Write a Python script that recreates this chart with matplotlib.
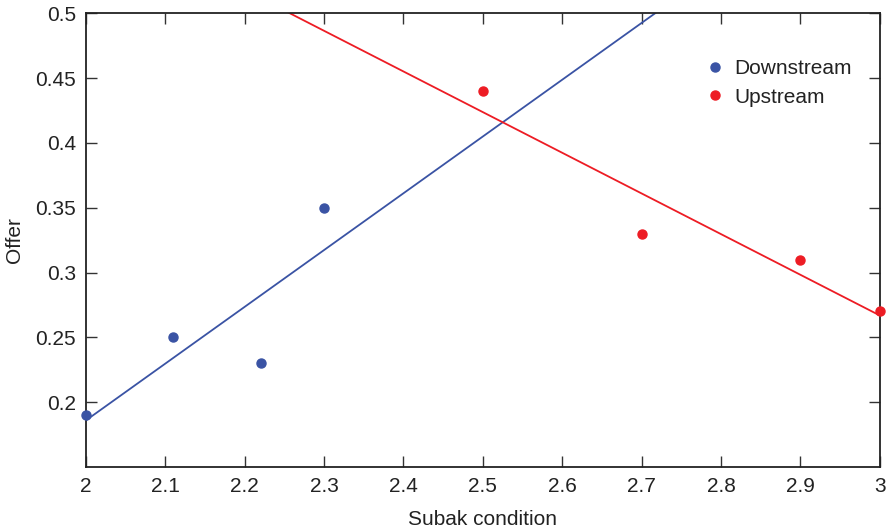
import matplotlib
matplotlib.use('Agg')
import matplotlib.pyplot as plt
import numpy as np

plt.rcParams['font.family'] = ['Liberation Sans', 'DejaVu Sans']

down_x = [2.0, 2.11, 2.22, 2.3]
down_y = [0.19, 0.25, 0.23, 0.35]
up_x = [2.5, 2.7, 2.9, 3.0]
up_y = [0.44, 0.33, 0.31, 0.27]

blue = '#3a53a4'
red = '#ed1c24'

fig = plt.figure(figsize=(8.86, 5.29), dpi=100)
ax = fig.add_axes([0.097, 0.117, 0.896, 0.858])

xs = np.array([2.0, 3.0])
for x, y, color, label in [(down_x, down_y, blue, 'Downstream'), (up_x, up_y, red, 'Upstream')]:
    ax.plot(x, y, 'o', color=color, markersize=6.5, label=label, clip_on=False, zorder=3)
    slope, icpt = np.polyfit(x, y, 1)
    ax.plot(xs, slope * xs + icpt, color=color, linewidth=1.3)

ax.set_xlim(2, 3)
ax.set_ylim(0.15, 0.5)
ax.set_xticks(np.arange(2, 3.01, 0.1))
ax.set_xticklabels(['2', '2.1', '2.2', '2.3', '2.4', '2.5', '2.6', '2.7', '2.8', '2.9', '3'])
ax.set_yticks([0.2, 0.25, 0.3, 0.35, 0.4, 0.45, 0.5])
ax.set_yticklabels(['0.2', '0.25', '0.3', '0.35', '0.4', '0.45', '0.5'])
ax.tick_params(direction='in', top=True, right=True, labelsize=15, length=8, width=1,
               color='#333333', labelcolor='#222222', pad=7)
for s in ax.spines.values():
    s.set_linewidth(1.3)
    s.set_color('#222222')

ax.set_xlabel('Subak condition', fontsize=15, color='#222222', labelpad=10)
ax.set_ylabel('Offer', fontsize=15, color='#222222', labelpad=8)

ax.legend(loc='upper right', bbox_to_anchor=(0.988, 0.94), frameon=False, fontsize=15,
          handlelength=0.6, handletextpad=0.6, labelspacing=0.45, markerscale=1.0,
          labelcolor='#222222')

fig.savefig('out.png', dpi=100)
